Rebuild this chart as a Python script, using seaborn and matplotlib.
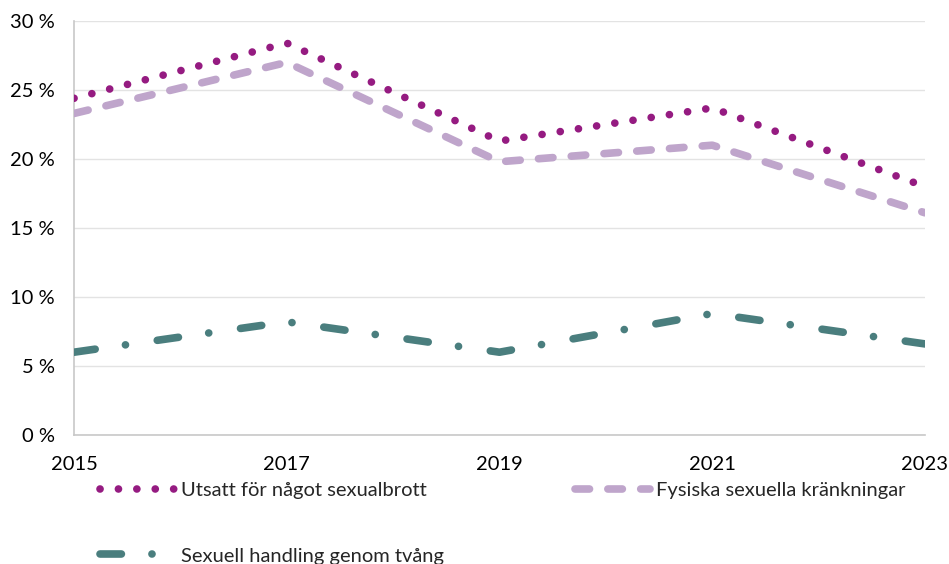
import matplotlib
matplotlib.use("Agg")
import matplotlib.pyplot as plt
import seaborn as sns
import pandas as pd

# data (share of respondents, %)
years = [2015, 2017, 2019, 2021, 2023]
utsatt = [24.4, 28.4, 21.3, 23.7, 18.0]
fysiska = [23.3, 27.0, 19.8, 21.0, 16.1]
tvang = [6.0, 8.2, 6.0, 8.8, 6.6]
y_ticks = [0, 5, 10, 15, 20, 25, 30]

sns.set_theme(style="white")
plt.rcParams['font.family'] = ['Lato', 'DejaVu Sans']

fig = plt.figure(figsize=(9.49, 5.64), dpi=100)
ax = fig.add_axes([74 / 949, 1 - 435 / 564, (925 - 74) / 949, (435 - 21) / 564])

lw = 5.5
serier = [
    ("Utsatt för något sexualbrott", utsatt, "#951B81", (0, (0.01, 2.4))),
    ("Sexuell handling genom tvång", tvang, "#4A7E7E", (0, (2.8, 4.0, 0.01, 4.2))),
    ("Fysiska sexuella kränkningar", fysiska, "#BFA5CB", (0, (1.9, 2.4))),
]

for namn, varden, farg, stil in serier:
    df = pd.DataFrame({"år": years, "andel": varden})
    sns.lineplot(data=df, x="år", y="andel", ax=ax, color=farg, linewidth=lw,
                 linestyle=stil, label=namn, zorder=3)

for line in ax.get_lines():
    line.set_dash_capstyle("round")
    line.set_solid_capstyle("round")

ax.set_xlim(2015, 2023)
ax.set_ylim(0, 30)
ax.set_xticks([2015, 2017, 2019, 2021, 2023])
ax.set_yticks(y_ticks)
ax.set_yticklabels([f"{v} %" for v in y_ticks])
ax.set_xlabel("")
ax.set_ylabel("")

ax.grid(axis="y", color="#E3E3E3", linewidth=1)
ax.grid(axis="x", visible=False)
for side in ["top", "right"]:
    ax.spines[side].set_visible(False)
for side in ["left", "bottom"]:
    ax.spines[side].set_color("#C8C8C8")
    ax.spines[side].set_linewidth(1.2)

fs = 14.5
ax.tick_params(axis="both", labelsize=fs, colors="#C8C8C8", labelcolor="black",
               length=6, width=1.2, direction="out")
ax.tick_params(axis="y", pad=8)
ax.tick_params(axis="x", pad=9)

handles, labels = ax.get_legend_handles_labels()
ax.legend(handles, labels, loc="upper left", bbox_to_anchor=(100 / 949, 1 - 482 / 564),
          bbox_transform=fig.transFigure, ncol=2, frameon=False, fontsize=fs,
          handlelength=3.72, handletextpad=0.3, labelspacing=2.4, columnspacing=6.5,
          borderpad=0, borderaxespad=0)

fig.savefig("out.png", dpi=100)
